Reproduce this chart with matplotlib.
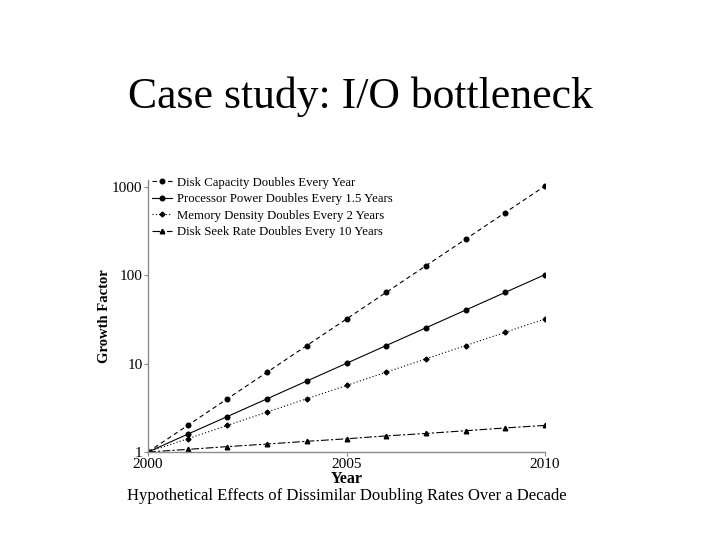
import matplotlib
matplotlib.use('Agg')
import matplotlib.pyplot as plt
from matplotlib.ticker import FixedLocator, NullLocator

plt.rcParams['font.family'] = ['Liberation Serif', 'DejaVu Serif']

years = [2000, 2001, 2002, 2003, 2004, 2005, 2006, 2007, 2008, 2009, 2010]
disk_capacity = [1, 2, 4, 8, 16, 32, 64, 128, 256, 512, 1024]
processor_power = [1, 1.59, 2.52, 4, 6.35, 10.08, 16, 25.4, 40.3, 64, 101.6]
memory_density = [1, 1.41, 2, 2.83, 4, 5.66, 8, 11.3, 16, 22.6, 32]
disk_seek = [1, 1.07, 1.15, 1.23, 1.32, 1.41, 1.52, 1.62, 1.74, 1.87, 2]

labels = [
    'Disk Capacity Doubles Every Year',
    'Processor Power Doubles Every 1.5 Years',
    'Memory Density Doubles Every 2 Years',
    'Disk Seek Rate Doubles Every 10 Years',
]
x_ticks = [2000, 2005, 2010]
y_ticks = [1, 10, 100, 1000]

spine_color = '#8c8c8c'

fig = plt.figure(figsize=(7.2, 5.4), dpi=100)
fig.patch.set_facecolor('white')

fig.text(0.5, 0.80, 'Case study: I/O bottleneck', ha='center', va='baseline',
         fontsize=31.5)

ax = fig.add_axes([0.2056, 0.163, 0.5514, 0.504])

ax.plot(years, disk_capacity, color='black', lw=0.8, ls=(0, (4, 3)),
        marker='o', ms=3.3, label=labels[0])
ax.plot(years, processor_power, color='black', lw=0.8, ls='-',
        marker='o', ms=3.3, label=labels[1])
ax.plot(years, memory_density, color='black', lw=0.8, ls=(0, (1, 2)),
        marker='D', ms=2.5, label=labels[2])
ax.plot(years, disk_seek, color='black', lw=0.8, ls=(0, (7, 2, 2, 2)),
        marker='^', ms=3.3, label=labels[3])

ax.set_yscale('log')
ax.set_xlim(2000, 2010)
ax.set_ylim(1, 1200)
ax.xaxis.set_major_locator(FixedLocator(x_ticks))
ax.yaxis.set_major_locator(FixedLocator(y_ticks))
ax.yaxis.set_minor_locator(NullLocator())
ax.set_xticklabels([str(t) for t in x_ticks])
ax.set_yticklabels([str(t) for t in y_ticks])
ax.tick_params(axis='both', labelsize=11, length=3, width=0.8,
               color=spine_color, pad=1)

for side in ['top', 'right']:
    ax.spines[side].set_visible(False)
for side in ['left', 'bottom']:
    ax.spines[side].set_color(spine_color)
    ax.spines[side].set_linewidth(1.0)

ax.set_xlabel('Year', fontsize=11.5, fontweight='bold', labelpad=0)
ax.set_ylabel('Growth Factor', fontsize=10.5, fontweight='bold', labelpad=1)

ax.legend(loc='upper left', bbox_to_anchor=(0.0, 1.025), frameon=False,
          fontsize=9.2, handlelength=1.6, handletextpad=0.35,
          labelspacing=0.35, borderaxespad=0.2, borderpad=0.1)

fig.text(0.481, 0.074, 'Hypothetical Effects of Dissimilar Doubling Rates Over a Decade',
         ha='center', va='baseline', fontsize=12)

fig.savefig('out.png', dpi=100)
